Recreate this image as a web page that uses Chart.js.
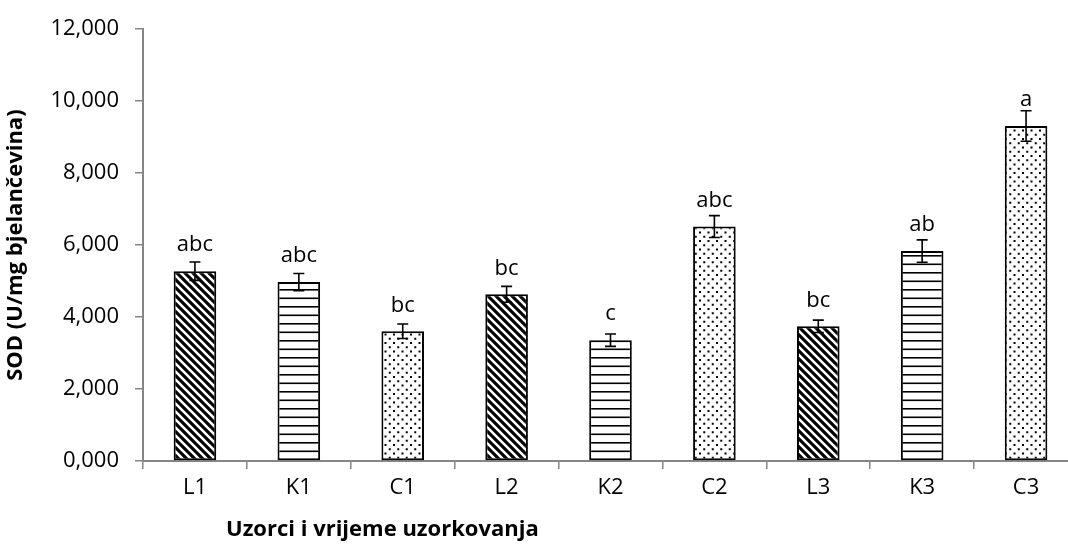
<!DOCTYPE html>
<html>
<head>
<meta charset="utf-8">
<script src="https://cdn.jsdelivr.net/npm/chart.js@4"></script>
<style>
  html, body { margin: 0; padding: 0; background: #fff; }
  #wrap { width: 1068px; height: 544px; overflow: hidden; position: relative; }
  #wrap canvas { position: absolute; left: 0; top: 0; }
</style>
</head>
<body>
<div id="wrap"><canvas id="sodChart" width="1080" height="544"></canvas></div>
<script>
// Data
const categories = ['L1', 'K1', 'C1', 'L2', 'K2', 'C2', 'L3', 'K3', 'C3'];
const sodValues = [5276, 4973, 3606, 4632, 3358, 6515, 3743, 5835, 9311];
const sodErrors = [256, 237, 200, 220, 173, 303, 173, 311, 424];
const groupLetters = ['abc', 'abc', 'bc', 'bc', 'c', 'abc', 'bc', 'ab', 'a'];
const yTickValues = [0, 2000, 4000, 6000, 8000, 10000, 12000];
const yTickLabels = ['0,000', '2,000', '4,000', '6,000', '8,000', '10,000', '12,000'];

const FONT = "'Open Sans', 'Noto Sans', sans-serif";
const AXIS_GREY = '#868686';

// Excel-like fill patterns: L = diagonal, K = horizontal, C = dots
function makePattern(kind) {
  const c = document.createElement('canvas');
  const g = c.getContext('2d');
  if (kind === 'diag') {
    c.width = 8; c.height = 8;
    g.fillStyle = '#fff';
    g.fillRect(0, 0, 8, 8);
    g.strokeStyle = '#000';
    g.lineWidth = 3.1;
    for (let k = -8; k <= 8; k += 8) {
      g.beginPath();
      g.moveTo(-4, -4 + k);
      g.lineTo(12, 12 + k);
      g.stroke();
    }
  } else if (kind === 'horiz') {
    c.width = 4; c.height = 17;
    g.fillStyle = '#fff';
    g.fillRect(0, 0, 4, 17);
    g.fillStyle = '#000';
    g.fillRect(0, 0, 4, 1.6);
    g.fillRect(0, 8.5, 4, 1.6);
  } else {
    c.width = 17; c.height = 17;
    g.fillStyle = '#fff';
    g.fillRect(0, 0, 17, 17);
    g.fillStyle = '#000';
    for (let r = 0; r < 4; r++) {
      for (let col = -1; col < 3; col++) {
        const x = 2 + (r % 2) * 4.25 + col * 8.5;
        const y = 2 + r * 4.25;
        g.fillRect(x, y, 2, 2);
      }
    }
  }
  return c.getContext('2d').createPattern(c, 'repeat');
}

const patternCycle = ['diag', 'horiz', 'dots'];
const barFills = categories.map((_, i) => makePattern(patternCycle[i % 3]));

// error bars and significance letters
const errorBarPlugin = {
  id: 'errorBars',
  afterDatasetsDraw(chart) {
    const ctx = chart.ctx;
    const yScale = chart.scales.y;
    const meta = chart.getDatasetMeta(0);
    ctx.save();
    ctx.strokeStyle = '#000';
    ctx.lineWidth = 1.6;
    meta.data.forEach((bar, i) => {
      const top = yScale.getPixelForValue(sodValues[i] + sodErrors[i]);
      const bot = yScale.getPixelForValue(sodValues[i] - sodErrors[i]);
      const hw = 5.5;
      ctx.beginPath();
      ctx.moveTo(bar.x, top); ctx.lineTo(bar.x, bot);
      ctx.moveTo(bar.x - hw, top); ctx.lineTo(bar.x + hw, top);
      ctx.moveTo(bar.x - hw, bot); ctx.lineTo(bar.x + hw, bot);
      ctx.stroke();
    });
    ctx.fillStyle = '#000';
    ctx.font = '22px ' + FONT;
    ctx.textAlign = 'center';
    ctx.textBaseline = 'middle';
    meta.data.forEach((bar, i) => {
      ctx.fillText(groupLetters[i], bar.x, bar.y - 26);
    });
    ctx.restore();
  }
};

// x axis title sits left of centre in the original
const xTitlePlugin = {
  id: 'xTitle',
  afterDraw(chart) {
    const ctx = chart.ctx;
    ctx.save();
    ctx.fillStyle = '#000';
    ctx.font = 'bold 22px ' + FONT;
    ctx.textAlign = 'left';
    ctx.textBaseline = 'middle';
    ctx.fillText('Uzorci i vrijeme uzorkovanja', chart.chartArea.left + 83, 530);
    ctx.restore();
  }
};

new Chart(document.getElementById('sodChart'), {
  type: 'bar',
  data: {
    labels: categories,
    datasets: [{
      data: sodValues,
      backgroundColor: barFills,
      borderColor: '#000',
      borderWidth: 2,
      borderSkipped: false,
      categoryPercentage: 1,
      barPercentage: 0.41
    }]
  },
  options: {
    responsive: false,
    animation: false,
    layout: { padding: { top: 26, right: 2, bottom: 0, left: 0 } },
    plugins: {
      legend: { display: false },
      tooltip: { enabled: false }
    },
    scales: {
      x: {
        afterFit(scale) { scale.height = 83; },
        grid: { offset: true, drawOnChartArea: false, tickLength: 8, color: AXIS_GREY, lineWidth: 1.5 },
        border: { color: AXIS_GREY, width: 2 },
        ticks: { color: '#000', padding: 6, font: { family: FONT, size: 22 } }
      },
      y: {
        min: 0,
        max: 12000,
        afterFit(scale) { scale.width = 143; },
        afterBuildTicks(scale) { scale.ticks = yTickValues.map(v => ({ value: v })); },
        grid: { drawOnChartArea: false, tickLength: 8, color: AXIS_GREY, lineWidth: 1.5 },
        border: { color: AXIS_GREY, width: 2 },
        ticks: {
          color: '#000',
          padding: 16,
          font: { family: FONT, size: 22 },
          callback: function(value) {
            const idx = yTickValues.indexOf(value);
            return idx >= 0 ? yTickLabels[idx] : '';
          }
        },
        title: {
          display: true,
          text: 'SOD (U/mg bjelančevina)',
          color: '#000',
          padding: { top: 3, bottom: 0 },
          font: { family: FONT, size: 22, weight: 'bold' }
        }
      }
    }
  },
  plugins: [errorBarPlugin, xTitlePlugin]
});
</script>
</body>
</html>
